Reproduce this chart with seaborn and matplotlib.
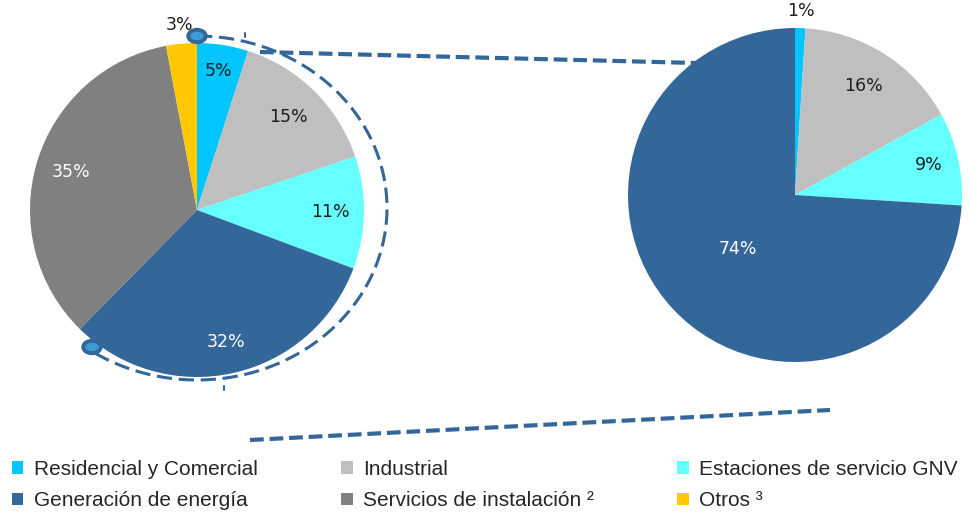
import numpy as np
import matplotlib
matplotlib.use("Agg")
import matplotlib.pyplot as plt
import seaborn as sns
from matplotlib.patches import Patch, Ellipse

sns.set_theme(style="white")
plt.rcParams['font.family'] = ['DejaVu Sans']

# ---- data ----
categories = ["Residencial y Comercial", "Industrial", "Estaciones de servicio GNV",
              "Generación de energía", "Servicios de instalación", "Otros"]
left_values = [5, 15, 11, 32, 35, 3]
right_categories = ["Residencial y Comercial", "Industrial", "Estaciones de servicio GNV",
                    "Generación de energía"]
right_values = [1, 16, 9, 74]
legend_labels = ["Residencial y Comercial", "Industrial", "Estaciones de servicio GNV",
                 "Generación de energía", "Servicios de instalación ²", "Otros ³"]

colors = {
    "Residencial y Comercial": "#00C5FF",
    "Industrial": "#BFBFBF",
    "Estaciones de servicio GNV": "#66FFFF",
    "Generación de energía": "#336699",
    "Servicios de instalación": "#808080",
    "Otros": "#FFC800",
}
light_text = {"Generación de energía", "Servicios de instalación"}

W, H = 971, 513
fig = plt.figure(figsize=(W / 100, H / 100), dpi=100)

def pie_axes(cx, cy, r):
    return fig.add_axes([(cx - r) / W, (H - cy - r) / H, 2 * r / W, 2 * r / H])

def draw_pie(ax, cats, vals, dists):
    wedges, _ = ax.pie(vals, colors=[colors[c] for c in cats], startangle=90,
                       counterclock=False, radius=1.0,
                       wedgeprops=dict(linewidth=0))
    for w, c, v, d in zip(wedges, cats, vals, dists):
        ang = np.deg2rad((w.theta1 + w.theta2) / 2)
        col = "white" if (c in light_text and d < 1) else "#1E1E1E"
        ax.text(d * np.cos(ang), d * np.sin(ang), f"{v}%", ha="center", va="center",
                fontsize=12.5, color=col)
    ax.set_xlim(-1, 1)
    ax.set_ylim(-1, 1)
    ax.set_aspect("equal")
    ax.axis("off")

axL = pie_axes(197, 210, 167)
draw_pie(axL, categories, left_values, [0.84, 0.78, 0.8, 0.81, 0.79, 1.11])
axR = pie_axes(795, 195, 167)
draw_pie(axR, right_categories, right_values, [1.10, 0.77, 0.82, 0.47])

# ---- overlay decorations in pixel coordinates ----
ov2 = fig.add_axes([0, 0, 1, 1], zorder=5)
ov2.set_xlim(0, W)
ov2.set_ylim(H, 0)
ov2.axis("off")
ov2.patch.set_alpha(0)

dark = "#336699"
t = np.deg2rad(np.linspace(90, -124, 300))
ov2.plot(197 + 190 * np.cos(t), 208 - 172 * np.sin(t), color=dark, lw=2.2,
         dashes=(5, 2.2))
ov2.plot([260, 697], [52, 63], color=dark, lw=3, dashes=(3.3, 1.4), zorder=1)
ov2.plot([250, 830], [440, 410], color=dark, lw=3, dashes=(3.3, 1.4))
for (x, y) in [(197, 36), (92, 347)]:
    ov2.add_patch(Ellipse((x, y), 20, 15, color=dark, zorder=6))
    ov2.add_patch(Ellipse((x, y), 12, 7, color="#3B9BD9", zorder=7))
ov2.plot([245, 245], [33, 37], color=dark, lw=1.5)
ov2.plot([224, 224], [386, 390], color=dark, lw=1.5)
axR.set_zorder(6)

# ---- legend ----
legend_colors = [colors[c] for c in categories]
handles = [Patch(facecolor=c, edgecolor="none") for c in legend_colors]
order = [0, 3, 1, 4, 2, 5]
leg = fig.legend([handles[i] for i in order], [legend_labels[i] for i in order],
                 ncol=3, loc="upper left", bbox_to_anchor=(12 / W, 1 - 460 / H),
                 frameon=False, handlelength=0.55, handleheight=0.55,
                 handletextpad=0.5, columnspacing=4.0, labelspacing=0.6,
                 borderpad=0, borderaxespad=0,
                 prop={"family": "Liberation Sans", "size": 15})

fig.savefig("out.png", dpi=100)
